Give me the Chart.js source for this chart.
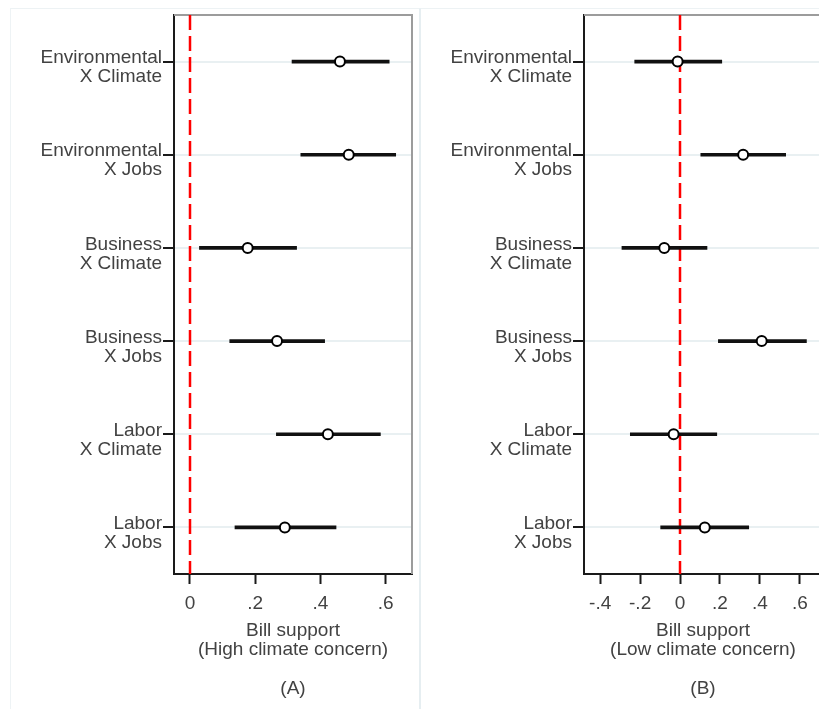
<!DOCTYPE html>
<html>
<head>
<meta charset="utf-8">
<script src="https://cdn.jsdelivr.net/npm/chart.js@4/dist/chart.umd.min.js"></script>
<style>
  html, body { margin: 0; padding: 0; background: #fff; }
  body { width: 819px; height: 709px; overflow: hidden; position: relative; }
  .frame { position: absolute; top: 8px; height: 701px; box-sizing: border-box; border-top: 1px solid #edf2f4; }
  #frameA { left: 10px; width: 410px; border-left: 1px solid #eef3f5; border-right: 1px solid #e6eef1; }
  #frameB { left: 420px; width: 410px; border-left: 1px solid #e6eef1; }
  .panel { position: absolute; top: 8px; width: 410px; height: 701px; }
  #panelA { left: 10px; }
  #panelB { left: 420px; }
</style>
</head>
<body>
<div class="frame" id="frameA"></div>
<div class="frame" id="frameB"></div>
<div class="panel" id="panelA"><canvas id="chartA" width="410" height="701"></canvas></div>
<div class="panel" id="panelB"><canvas id="chartB" width="410" height="701"></canvas></div>
<script>
// Source-by-frame treatment groups (one row each)
const groups = [
  ['Environmental', 'X Climate'],
  ['Environmental', 'X Jobs'],
  ['Business', 'X Climate'],
  ['Business', 'X Jobs'],
  ['Labor', 'X Climate'],
  ['Labor', 'X Jobs']
];

// Effects on bill support, high climate concern respondents
const highEstimate = [0.460, 0.487, 0.177, 0.267, 0.423, 0.291];
const highLower    = [0.313, 0.340, 0.029, 0.122, 0.265, 0.138];
const highUpper    = [0.611, 0.631, 0.327, 0.413, 0.584, 0.448];

// Effects on bill support, low climate concern respondents
const lowEstimate = [-0.012, 0.316, -0.079, 0.409, -0.032, 0.124];
const lowLower    = [-0.227, 0.104, -0.291, 0.192, -0.249, -0.097];
const lowUpper    = [0.209, 0.529, 0.135, 0.633, 0.184, 0.344];

// Axis tick values
const highTicks = [0, 0.2, 0.4, 0.6];
const lowTicks  = [-0.4, -0.2, 0, 0.2, 0.4, 0.6];

const FONT = "'Liberation Sans', Arial, sans-serif";
const TEXT = '#424242';

// Stata-style tick labels: ".2", "-.4", "0"
function fmtTick(v) {
  if (Math.abs(v) < 1e-9) return '0';
  const s = String(Math.round(Math.abs(v) * 10) / 10).replace(/^0/, '');
  return (v < 0 ? '-' : '') + s;
}

// Zero reference line plus the grey top/right plot-region border
const panelDecor = {
  id: 'panelDecor',
  beforeDatasetsDraw(chart) {
    const { ctx, chartArea: a, scales: { x } } = chart;
    ctx.save();
    ctx.strokeStyle = '#9c9c9c';
    ctx.lineWidth = 2;
    ctx.beginPath();
    ctx.moveTo(a.left, a.top);
    ctx.lineTo(a.right, a.top);
    ctx.lineTo(a.right, a.bottom);
    ctx.stroke();

    const px = Math.round(x.getPixelForValue(0));
    ctx.strokeStyle = '#ff0000';
    ctx.lineWidth = 2.5;
    ctx.setLineDash([15, 6]);
    ctx.beginPath();
    ctx.moveTo(px, a.top);
    ctx.lineTo(px, a.bottom);
    ctx.stroke();
    ctx.restore();
  }
};

function buildChart(id, est, lo, hi, ticks, range, subtitle, tag) {
  const intervals = lo.map((v, i) => [v, hi[i]]);
  return new Chart(document.getElementById(id), {
    type: 'bar',
    data: {
      labels: groups,
      datasets: [
        {
          type: 'line',
          indexAxis: 'y',
          data: est,
          showLine: false,
          pointRadius: 5,
          pointBorderWidth: 2,
          pointBackgroundColor: '#ffffff',
          pointBorderColor: '#000000',
          order: 0
        },
        {
          type: 'bar',
          indexAxis: 'y',
          data: intervals,
          backgroundColor: '#111111',
          borderWidth: 0,
          barThickness: 3,
          order: 1
        }
      ]
    },
    options: {
      indexAxis: 'y',
      responsive: false,
      animation: false,
      events: [],
      layout: { padding: { top: 7, right: 8, left: 0, bottom: 0 } },
      plugins: { legend: { display: false }, tooltip: { enabled: false } },
      scales: {
        y: {
          type: 'category',
          offset: true,
          afterFit(s) { s.width = 164; s.paddingTop = 0; s.paddingBottom = 0; },
          grid: {
            offset: false,
            color: '#e9f0f2',
            lineWidth: 2,
            drawTicks: true,
            tickLength: 11,
            tickColor: '#1a1a1a',
            tickWidth: 2
          },
          border: { display: true, color: '#1a1a1a', width: 2 },
          ticks: {
            padding: 1,
            labelOffset: 6,
            color: TEXT,
            font: { family: FONT, size: 19, lineHeight: '19px' }
          }
        },
        x: {
          type: 'linear',
          min: range[0],
          max: range[1],
          afterFit(s) { s.height = 135; s.paddingLeft = 0; s.paddingRight = 0; },
          afterBuildTicks(s) { s.ticks = ticks.map(v => ({ value: v })); },
          grid: {
            drawOnChartArea: false,
            drawTicks: true,
            tickLength: 10,
            tickColor: '#1a1a1a',
            tickWidth: 2
          },
          border: { display: true, color: '#1a1a1a', width: 2 },
          ticks: {
            padding: 8,
            color: TEXT,
            font: { family: FONT, size: 19 },
            callback: v => fmtTick(v)
          },
          title: {
            display: true,
            text: ['Bill support', subtitle, '', tag],
            color: TEXT,
            padding: { top: 0, bottom: 10 },
            font: { family: FONT, size: 19, lineHeight: '19.5px' }
          }
        }
      }
    },
    plugins: [panelDecor]
  });
}

buildChart('chartA', highEstimate, highLower, highUpper, highTicks, [-0.049, 0.681], '(High climate concern)', '(A)');
buildChart('chartB', lowEstimate, lowLower, lowUpper, lowTicks, [-0.481, 0.711], '(Low climate concern)', '(B)');
</script>
</body>
</html>
